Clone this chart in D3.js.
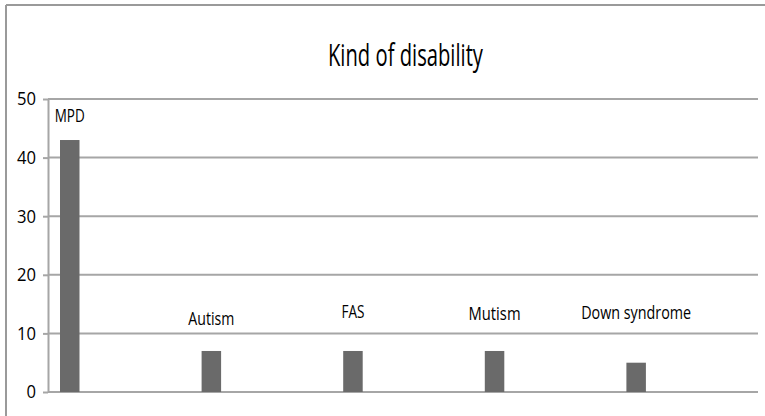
<!DOCTYPE html>
<html>
<head>
<meta charset="utf-8">
<script src="https://cdn.jsdelivr.net/npm/d3@7"></script>
<style>
  body { margin: 0; background: #fff; }
  svg { display: block; }
  text { font-family: "Open Sans", sans-serif; fill: #000; }
</style>
</head>
<body>
<svg width="765" height="416"></svg>
<script>
// data
var categories = ["MPD", "Autism", "FAS", "Mutism", "Down syndrome"];
var values = [43, 7, 7, 7, 5];
var yTicks = [0, 10, 20, 30, 40, 50];
var title = "Kind of disability";

// label styling (hand placed in the original)
var labelLift = [18, 26, 33, 31, 44];
var labelWidth = [30, 46, 23, 52, 110];

var plotLeft = 48, plotRight = 756, gridRight = 758,
    plotTop = 99, plotBottom = 392,
    barOffset = 12, barWidth = 19.5;

var svg = d3.select("svg");

// outer frame (top + left only visible)
svg.append("line").attr("x1", 6).attr("x2", 765).attr("y1", 5).attr("y2", 5)
    .attr("stroke", "#9a9a9a").attr("stroke-width", 2);
svg.append("line").attr("x1", 6).attr("x2", 6).attr("y1", 5).attr("y2", 416)
    .attr("stroke", "#9a9a9a").attr("stroke-width", 2);

var xScale = d3.scaleBand().domain(categories).range([plotLeft, plotRight]);
var yScale = d3.scaleLinear().domain([0, 50]).range([plotBottom, plotTop]);

// gridlines
svg.append("g").selectAll("line").data(yTicks).enter().append("line")
    .attr("x1", plotLeft).attr("x2", gridRight)
    .attr("y1", function(d) { return yScale(d); })
    .attr("y2", function(d) { return yScale(d); })
    .attr("stroke", "#a6a6a6").attr("stroke-width", 2);

// y axis
var yAxis = svg.append("g")
    .attr("transform", "translate(" + plotLeft + ",0)")
    .call(d3.axisLeft(yScale).tickValues(yTicks).tickSize(5).tickSizeOuter(0).tickPadding(7));
yAxis.select(".domain").attr("stroke", "#a6a6a6").attr("stroke-width", 2);
yAxis.selectAll(".tick line").attr("stroke", "#a6a6a6").attr("stroke-width", 2);
yAxis.selectAll(".tick text")
    .style("font-family", "'Open Sans', sans-serif")
    .style("font-size", "18.5px")
    .attr("fill", "#000")
    .attr("textLength", function(d) { return String(d).length * 9.5; })
    .attr("lengthAdjust", "spacingAndGlyphs");

// bars
svg.append("g").selectAll("rect").data(values).enter().append("rect")
    .attr("x", function(d, i) { return xScale(categories[i]) + barOffset; })
    .attr("y", function(d) { return yScale(d); })
    .attr("width", barWidth)
    .attr("height", function(d) { return yScale(0) - yScale(d); })
    .attr("fill", "#6a6a6a");

// category labels above bars
svg.append("g").selectAll("text").data(values).enter().append("text")
    .attr("x", function(d, i) { return xScale(categories[i]) + barOffset + barWidth / 2 - labelWidth[i] / 2; })
    .attr("y", function(d, i) { return yScale(d) - labelLift[i]; })
    .attr("textLength", function(d, i) { return labelWidth[i]; })
    .attr("lengthAdjust", "spacingAndGlyphs")
    .style("font-size", "18.5px")
    .text(function(d, i) { return categories[i]; });

// title
svg.append("text")
    .attr("x", 328).attr("y", 66)
    .attr("textLength", 155)
    .attr("lengthAdjust", "spacingAndGlyphs")
    .style("font-size", "31px")
    .text(title);
</script>
</body>
</html>
